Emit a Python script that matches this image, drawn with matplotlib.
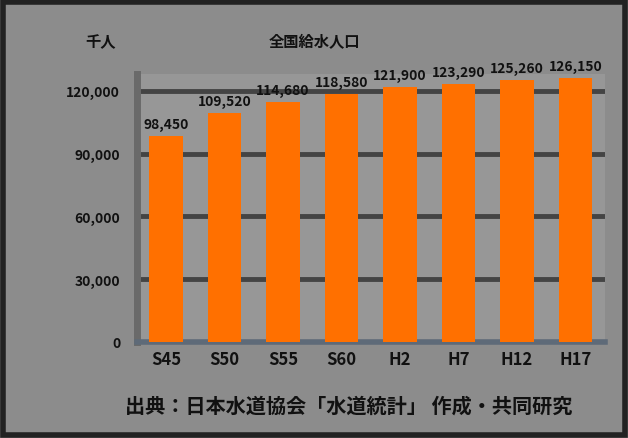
import matplotlib.pyplot as plt

plt.rcParams['font.family'] = ['Noto Sans CJK JP', 'DejaVu Sans']

years = ["S45", "S50", "S55", "S60", "H2", "H7", "H12", "H17"]
values = [98450, 109520, 114680, 118580, 121900, 123290, 125260, 126150]
yticks = [0, 30000, 60000, 90000, 120000]

fig = plt.figure(figsize=(6.28, 4.39), dpi=100, facecolor="#8c8c8c")
ax = fig.add_axes([0.218, 0.219, 0.745, 0.61])
ax.set_facecolor("#979797")

x = range(len(years))
ax.bar(x, values, width=0.57, color="#ff7000", zorder=3)
for i, v in zip(x, values):
    ax.text(i, v + 2500, f"{v:,}", ha="center", va="bottom",
            fontsize=10, fontweight="bold", color="#111111", zorder=4)

ax.set_ylim(0, 128000)
ax.set_xlim(-0.5, len(years) - 0.5)
ax.set_yticks(yticks)
ax.set_yticklabels([f"{t:,}" for t in yticks], fontsize=10, fontweight="bold", color="#111111")
ax.set_xticks(list(x))
ax.set_xticklabels(years, fontsize=12, fontweight="bold", color="#111111")
ax.tick_params(axis="x", length=0, pad=6)
ax.tick_params(axis="y", length=0, pad=12)
ax.yaxis.grid(True, color="#444444", linewidth=3.5, zorder=1)
ax.set_axisbelow(True)

for s in ["top", "right"]:
    ax.spines[s].set_visible(False)
ax.spines["left"].set_color("#6a6a6a")
ax.spines["left"].set_linewidth(5)
ax.spines["bottom"].set_color("#5e6a78")
ax.spines["bottom"].set_linewidth(4)

fig.text(0.16, 0.893, "千人", fontsize=11, fontweight="bold", color="#111111", ha="center")
fig.text(0.50, 0.893, "全国給水人口", fontsize=11, fontweight="bold", color="#111111", ha="center")
fig.text(0.555, 0.06, "出典：日本水道協会「水道統計」 作成・共同研究", fontsize=14.5,
         fontweight="bold", color="#111111", ha="center")

# dark frame around the picture
frame = plt.Rectangle((0.004, 0.006), 0.992, 0.988, transform=fig.transFigure,
                      fill=False, edgecolor="#222222", linewidth=4)
fig.patches.append(frame)

fig.savefig("out.png", dpi=100, facecolor=fig.get_facecolor())
